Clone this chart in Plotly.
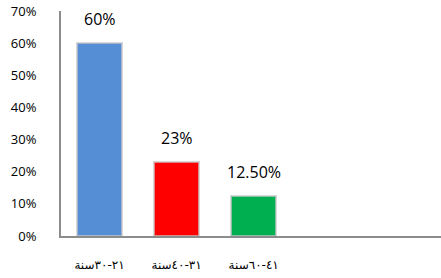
import plotly.graph_objects as go

categories = ["٢١-٣٠سنة", "٣١-٤٠سنة", "٤١-٦٠سنة"]
values = [0.60, 0.23, 0.125]
value_labels = ["60%", "23%", "12.50%"]
colors = ["#558ED5", "#FF0000", "#00B050"]
y_ticks = [0, 0.1, 0.2, 0.3, 0.4, 0.5, 0.6, 0.7]

xpos = list(range(len(categories)))

fig = go.Figure()
fig.add_trace(go.Bar(
    x=xpos, y=values, width=0.58,
    marker=dict(color=colors, line=dict(color="rgba(200,200,200,0.7)", width=2)),
    hoverinfo="skip",
))

for xi, v, t in zip(xpos, values, value_labels):
    fig.add_annotation(x=xi, y=v, text=t, showarrow=False, yshift=24,
                       font=dict(size=16, color="#000000", family="Open Sans, Arial, sans-serif"))

fig.update_layout(
    width=441, height=278,
    margin=dict(l=61, r=0, t=11, b=42),
    paper_bgcolor="white", plot_bgcolor="white",
    showlegend=False,
    bargap=0,
)
fig.update_xaxes(
    range=[-0.5, 4.43], tickvals=xpos, ticktext=categories,
    showline=True, linecolor="#8C8C8C", linewidth=2,
    showgrid=False, zeroline=False, ticks="",
    automargin=False,
    ticklabelstandoff=17,
    tickfont=dict(size=12, color="#000000", family="DejaVu Sans, sans-serif"),
)
fig.update_yaxes(
    range=[0, 0.7], tickvals=y_ticks, tickformat=".0%",
    showline=True, linecolor="#8C8C8C", linewidth=2,
    showgrid=False, zeroline=False, ticks="",
    automargin=False, ticklabeloverflow="allow",
    ticklabelstandoff=20,
    tickfont=dict(size=13, color="#000000", family="Open Sans, Arial, sans-serif"),
)

fig.write_html("out.html", config={"displayModeBar": False},
               post_script="document.body.style.margin='0';")
